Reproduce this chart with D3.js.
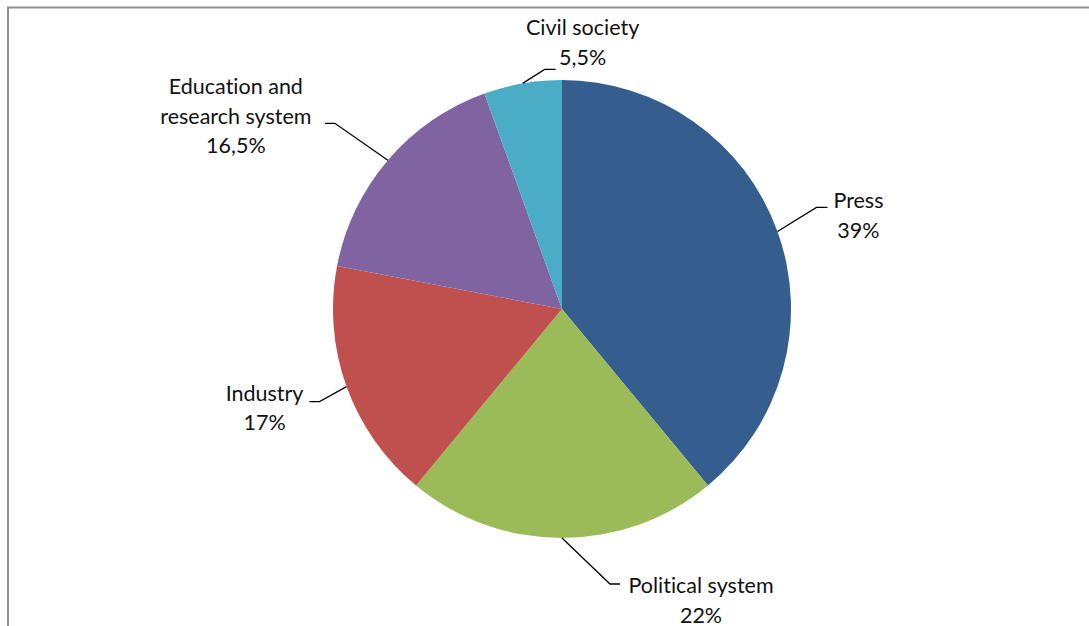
<!DOCTYPE html>
<html>
<head>
<meta charset="utf-8">
<script src="https://cdn.jsdelivr.net/npm/d3@7"></script>
<style>
  html, body { margin: 0; padding: 0; background: #fff; }
  svg { display: block; }
  text { font-family: Lato, "Open Sans", sans-serif; font-size: 21.5px; fill: #111;
         font-variant-ligatures: none; font-feature-settings: "liga" 0, "clig" 0; }
</style>
</head>
<body>
<svg id="chart" width="1089" height="626"></svg>
<script>
// Share of mentions by actor group (percent)
const categories = ["Press", "Political system", "Industry", "Education and research system", "Civil society"];
const shares = [39, 22, 17, 16.5, 5.5];
const valueLabels = ["39%", "22%", "17%", "16,5%", "5,5%"];
const labelLines = [["Press"], ["Political system"], ["Industry"], ["Education and", "research system"], ["Civil society"]];
const colors = ["#355e8e", "#9bbb59", "#c0504d", "#8064a2", "#4bacc6"];

// Leader-line elbow and text placement, relative to the slice edge point
const labelLayout = [
  { elbow: [39, -24], run: 11, text: [81, -23], anchor: "middle" },
  { elbow: [48, 46], run: 10, text: [139, 55], anchor: "middle" },
  { elbow: [-27, 15], run: -10, text: [-82, 14], anchor: "middle" },
  { elbow: [-53, -37], run: -10, text: [-152, -66], anchor: "middle" },
  { elbow: [22, -14], run: 11, text: [60, -48], anchor: "middle" }
];

const W = 1089, H = 626;
const cx = 562, cy = 309, R = 229;
const svg = d3.select("#chart");

// Frame around the chart area
svg.append("rect")
  .attr("x", 8).attr("y", 7.5)
  .attr("width", W + 20).attr("height", H + 20)
  .attr("fill", "none")
  .attr("stroke", "#8e8e8e")
  .attr("stroke-width", 2);

const pie = d3.pie().sort(null).value(d => d);
const arcs = pie(shares);
const arc = d3.arc().innerRadius(0).outerRadius(R);
const edge = d3.arc().innerRadius(R).outerRadius(R);

const g = svg.append("g").attr("transform", `translate(${cx},${cy})`);

g.selectAll("path.slice")
  .data(arcs)
  .join("path")
  .attr("class", "slice")
  .attr("d", arc)
  .attr("fill", (d, i) => colors[i]);

// Leader lines and labels
arcs.forEach((d, i) => {
  const [ex, ey] = edge.centroid(d);
  const L = labelLayout[i];
  const bx = ex + L.elbow[0], by = ey + L.elbow[1];
  g.append("polyline")
    .attr("points", [[ex, ey], [bx, by], [bx + L.run, by]].map(p => p.join(",")).join(" "))
    .attr("fill", "none")
    .attr("stroke", "#000")
    .attr("stroke-width", 1.3);

  const lines = labelLines[i].concat([valueLabels[i]]);
  const t = g.append("text")
    .attr("text-anchor", L.anchor)
    .attr("x", ex + L.text[0])
    .attr("y", ey + L.text[1]);
  lines.forEach((s, k) => {
    t.append("tspan")
      .attr("x", ex + L.text[0])
      .attr("dy", k === 0 ? 0 : 29.5)
      .text(s);
  });
});
</script>
</body>
</html>
